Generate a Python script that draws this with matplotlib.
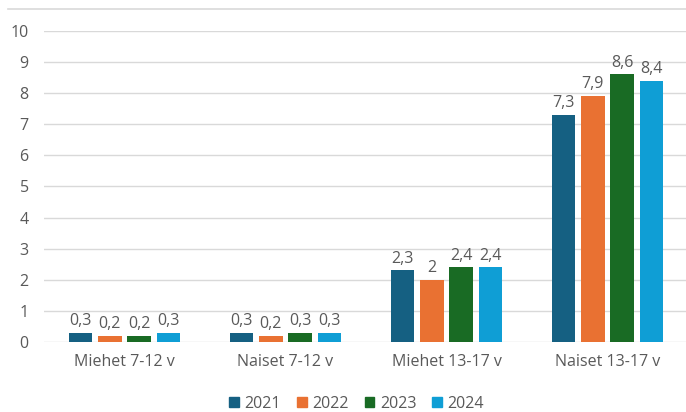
import numpy as np
import matplotlib.pyplot as plt
from matplotlib.lines import Line2D

# Chart data
categories = ["Miehet 7-12 v", "Naiset 7-12 v", "Miehet 13-17 v", "Naiset 13-17 v"]
years = ["2021", "2022", "2023", "2024"]
v2021 = [0.3, 0.3, 2.3, 7.3]
v2022 = [0.2, 0.2, 2.0, 7.9]
v2023 = [0.2, 0.3, 2.4, 8.6]
v2024 = [0.3, 0.3, 2.4, 8.4]
colors = ["#156082", "#E97132", "#196B24", "#0F9ED5"]

series = [v2021, v2022, v2023, v2024]
text_color = "#595959"
fs = 11.5
plt.rcParams["font.family"] = ["Open Sans", "DejaVu Sans"]


def fmt(v):
    s = ("%.1f" % v).rstrip("0").rstrip(".")
    return s.replace(".", ",")


fig = plt.figure(figsize=(6.86, 4.12), dpi=100)
ax = fig.add_axes([0.064, 0.170, 0.939, 0.755])

x = np.arange(len(categories))
pitch = 0.182
width = 0.146
for i, (vals, c) in enumerate(zip(series, colors)):
    pos = x + (i - 1.5) * pitch
    bars = ax.bar(pos, vals, width, color=c, zorder=3)
    for b, v in zip(bars, vals):
        ax.text(b.get_x() + b.get_width() / 2, v + 0.12, fmt(v),
                ha="center", va="bottom", fontsize=fs, color=text_color)

ax.set_ylim(0, 10)
ax.set_xlim(-0.5, 3.5)
ax.set_yticks(range(0, 11))
ax.set_xticks(x)
ax.set_xticklabels(categories)
ax.tick_params(axis="y", length=0, pad=11, labelsize=fs, labelcolor=text_color)
ax.tick_params(axis="x", length=0, pad=9, labelsize=fs, labelcolor=text_color)
ax.grid(axis="y", color="#D9D9D9", linewidth=1, zorder=0)
for s in ax.spines.values():
    s.set_visible(False)

# top border line
fig.add_artist(Line2D([0.012, 1.0], [0.978, 0.978], color="#D9D9D9", linewidth=1.2))

handles = [plt.Rectangle((0, 0), 1, 1, color=c) for c in colors]
fig.legend(handles, years, loc="center", bbox_to_anchor=(0.52, 0.02), ncol=4,
           frameon=False, fontsize=fs, labelcolor=text_color, handlelength=0.6,
           handleheight=0.6, handletextpad=0.35, columnspacing=1.0)

fig.savefig("out.png", dpi=100)
